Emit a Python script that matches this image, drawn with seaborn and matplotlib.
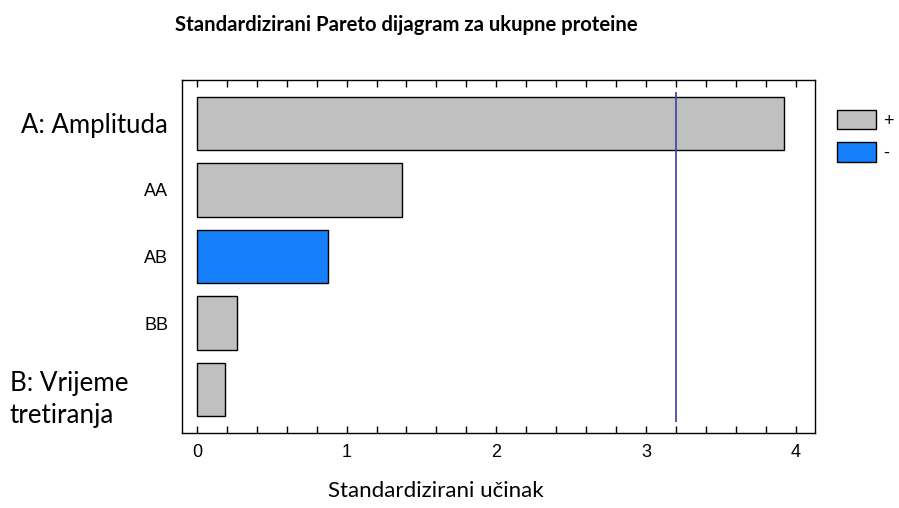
import numpy as np
import pandas as pd
import seaborn as sns
from matplotlib import pyplot as plt
from matplotlib.patches import Patch
from matplotlib.ticker import MultipleLocator

# data
effects = ["A: Amplituda", "AA", "AB", "BB", "B: Vrijeme\ntretiranja"]
values = [3.92, 1.37, 0.875, 0.27, 0.19]
signs = ["+", "+", "-", "+", "+"]
t_crit = 3.2

df = pd.DataFrame({"effect": effects, "value": values, "sign": signs})
colors = {"+": "#c0c0c0", "-": "#1580fa"}

sns.set_style("white")
plt.rcParams.update({"text.color": "black", "xtick.labelcolor": "black",
                     "ytick.labelcolor": "black", "axes.labelcolor": "black"})
fig = plt.figure(figsize=(8.99, 5.08), dpi=100)
ax = fig.add_axes((182 / 899, 1 - 433 / 508, 633 / 899, 353 / 508))

sns.barplot(data=df, x="value", y="effect", hue="sign", palette=colors,
            dodge=False, width=0.8, saturation=1, edgecolor="black", linewidth=1,
            legend=False, ax=ax)

ax.vlines(t_crit, -0.47, 4.49, color="#4a4aa8", linewidth=1.3)

ax.set_xlim(-0.1, 4.13)
ax.set_ylim(4.65, -0.65)
ax.xaxis.set_major_locator(MultipleLocator(1))
ax.xaxis.set_minor_locator(MultipleLocator(0.2))
ax.tick_params(axis="x", which="both", direction="in", top=True, bottom=True,
               length=5, width=1, color="black", labelsize=13, pad=8)
ax.tick_params(axis="y", length=0, pad=10)
for lab in ax.get_xticklabels():
    lab.set_family("Liberation Sans")

# y tick labels: mixed fonts like the original
ax.set_yticks(range(len(effects)))
ax.set_yticklabels([e if "\n" not in e else "" for e in effects])
for lab, e in zip(ax.get_yticklabels(), effects):
    if ":" in e:
        lab.set_family("Lato")
        lab.set_fontsize(18.5)
    else:
        lab.set_family("Liberation Sans")
        lab.set_fontsize(13)
# the two-line label is left-aligned at the figure edge in the original
ax.text(-(182 - 10) / 633, 3.72, effects[-1],
        transform=ax.get_yaxis_transform(), ha="left", va="top",
        family="Lato", fontsize=18.7, linespacing=1.36)

for s in ax.spines.values():
    s.set_visible(True)
    s.set_color("black")
    s.set_linewidth(1)

ax.set_ylabel("")
ax.set_xlabel("Standardizirani učinak", family="Lato", fontsize=16)
ax.xaxis.set_label_coords((436 - 182) / 633, -0.135)

fig.text(406 / 899, 1 - 25 / 508, "Standardizirani Pareto dijagram za ukupne proteine",
         ha="center", va="center", family="Lato", fontweight="bold", fontsize=14.6)

handles = [Patch(facecolor=colors[k], edgecolor="black", label=k) for k in ["+", "-"]]
fig.legend(handles=handles, loc="upper left", bbox_to_anchor=(833 / 899, 1 - 106 / 508),
           frameon=False, handlelength=2.2, handleheight=1.3, handletextpad=0.4,
           labelspacing=0.7, borderpad=0.2, borderaxespad=0,
           prop={"family": "Liberation Sans", "size": 13})

plt.savefig("out.png", dpi=100)
